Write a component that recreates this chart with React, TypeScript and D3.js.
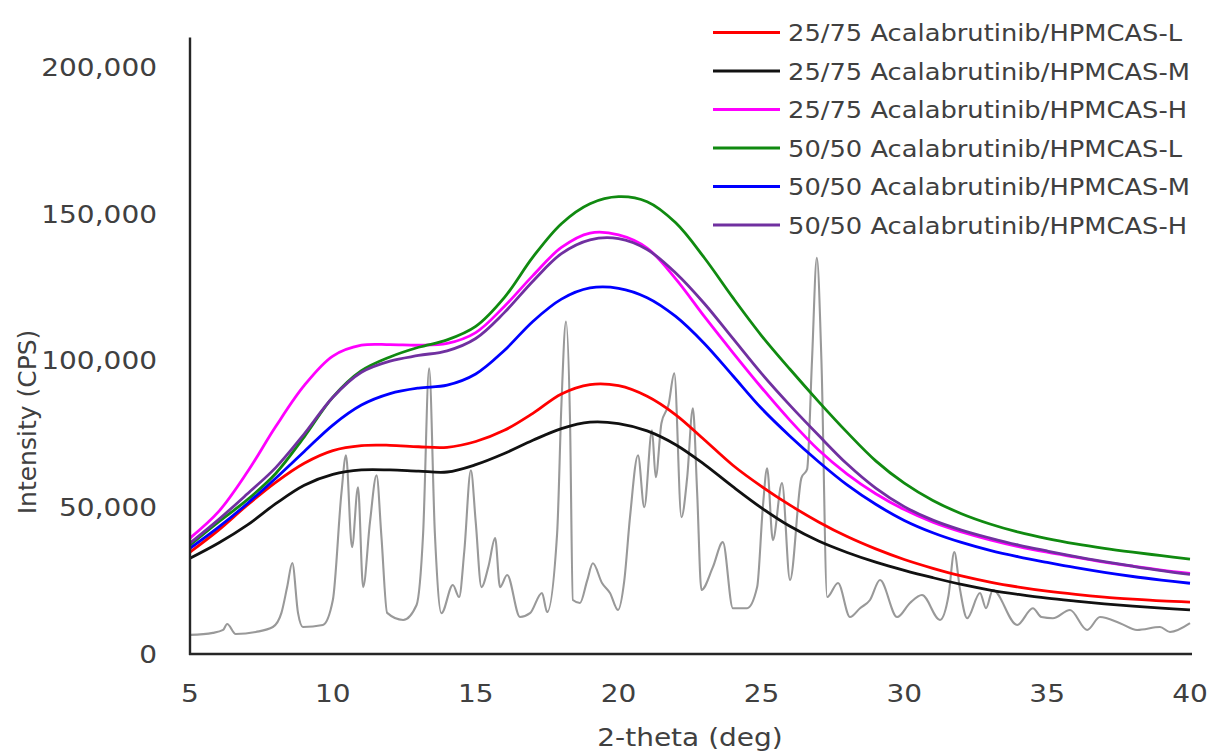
import React from "react";
import * as d3 from "d3";

// ---- data ----
const xTicks = [5, 10, 15, 20, 25, 30, 35, 40];
const yTicks = [0, 50000, 100000, 150000, 200000];

const seriesNames = [
  "25/75 Acalabrutinib/HPMCAS-L",
  "25/75 Acalabrutinib/HPMCAS-M",
  "25/75 Acalabrutinib/HPMCAS-H",
  "50/50 Acalabrutinib/HPMCAS-L",
  "50/50 Acalabrutinib/HPMCAS-M",
  "50/50 Acalabrutinib/HPMCAS-H",
];
const seriesColors = ["#FF0000", "#111111", "#FF00FF", "#108A10", "#0000FF", "#7030A0"];

// 2-theta positions for amorphous halos (5..40 step 1)
const thetaGrid = [5, 6, 7, 8, 9, 10, 11, 12, 13, 14, 15, 16, 17, 18, 19, 20, 21, 22, 23, 24, 25, 26, 27, 28, 29, 30, 31, 32, 33, 34, 35, 36, 37, 38, 39, 40];

const red2575L = [34700, 42200, 50700, 58500, 65000, 69300, 71000, 71100, 70600, 70400, 72400, 76200, 82000, 88600, 91800, 91400, 87800, 81500, 73000, 64300, 57100, 50700, 45000, 40000, 35800, 32200, 29200, 26600, 24500, 22800, 21400, 20300, 19400, 18700, 18100, 17700];
const black2575M = [32600, 37800, 43900, 51200, 57500, 61200, 62700, 62700, 62300, 62000, 64500, 68300, 72800, 76800, 79000, 78500, 76000, 71300, 64600, 57000, 49800, 43500, 38500, 34600, 31300, 28500, 26000, 23700, 21800, 20300, 19000, 18000, 17100, 16300, 15600, 15000];
const pink2575H = [39500, 48500, 61900, 77500, 91500, 101500, 105200, 105400, 105200, 105800, 109500, 118400, 128900, 138500, 143400, 142800, 138300, 127800, 115000, 102700, 90800, 79600, 69500, 61300, 54600, 49200, 44900, 41600, 38900, 36600, 34700, 33000, 31300, 29900, 28600, 27500];
const green5050L = [37100, 45000, 52500, 61500, 74000, 87500, 96500, 101200, 104500, 107000, 111600, 121400, 135200, 146600, 153400, 155800, 154100, 146900, 135000, 121400, 108500, 97000, 86000, 75500, 65800, 58200, 52300, 47800, 44300, 41500, 39300, 37500, 36000, 34700, 33500, 32300];
const blue5050M = [36000, 43200, 51200, 59900, 69000, 78000, 84800, 88700, 90600, 91600, 95400, 103400, 113300, 120900, 124700, 124600, 121400, 115000, 105800, 94800, 83700, 74200, 65500, 57600, 51000, 45500, 41300, 38000, 35300, 33100, 31200, 29400, 27800, 26400, 25200, 24100];
const purple5050H = [37800, 45800, 54500, 63500, 75000, 87500, 96000, 99800, 101700, 103300, 107500, 116300, 127000, 136400, 141100, 141500, 137800, 129800, 119400, 107500, 95600, 84700, 74500, 64700, 56500, 50200, 45600, 42200, 39500, 37100, 35100, 33200, 31500, 29900, 28400, 27100];

const seriesValues = [red2575L, black2575M, pink2575H, green5050L, blue5050M, purple5050H];

// crystalline reference pattern (grey)
const refTheta = [5.0, 5.8, 6.16, 6.3, 6.6, 7.3, 7.9, 8.2, 8.4, 8.58, 8.78, 8.95, 9.65, 10.0, 10.3, 10.46, 10.67, 10.88, 11.06, 11.3, 11.53, 11.7, 11.9, 12.46, 12.93, 13.16, 13.37, 13.57, 13.8, 14.2, 14.42, 14.6, 14.83, 15.0, 15.2, 15.45, 15.68, 15.85, 16.1, 16.55, 16.9, 17.32, 17.5, 17.85, 18.0, 18.16, 18.3, 18.4, 18.65, 18.9, 19.1, 19.42, 19.7, 19.98, 20.2, 20.4, 20.68, 20.9, 21.17, 21.3, 21.5, 21.75, 21.95, 22.2, 22.4, 22.6, 22.75, 22.9, 23.3, 23.65, 24.0, 24.5, 24.85, 25.05, 25.2, 25.4, 25.72, 26.0, 26.4, 26.6, 26.77, 26.94, 27.1, 27.3, 27.68, 28.1, 28.45, 28.8, 29.15, 29.75, 30.2, 30.62, 31.25, 31.55, 31.75, 31.95, 32.2, 32.65, 32.86, 33.1, 33.95, 34.5, 34.8, 35.2, 35.8, 36.4, 36.85, 37.55, 38.15, 38.95, 39.3, 40.0];
const refIntensity = [6500, 7200, 8200, 10200, 6800, 7500, 9200, 14000, 22800, 31000, 14000, 9200, 9900, 18400, 54800, 67700, 36400, 56800, 22800, 45000, 60900, 40000, 14000, 11600, 16700, 41200, 97300, 41200, 13900, 23500, 19400, 35000, 62600, 45000, 22800, 30000, 39500, 22800, 26900, 12600, 13900, 20800, 14300, 41200, 85000, 113300, 80000, 18400, 17400, 25000, 30900, 24200, 20800, 15000, 25000, 46600, 67700, 50000, 76200, 60200, 78600, 85000, 95600, 46600, 60000, 83700, 55000, 21800, 29600, 38100, 15600, 15600, 22800, 50000, 63300, 38800, 58200, 25200, 60000, 63000, 100000, 135000, 100000, 19400, 24200, 12600, 15600, 18400, 25200, 12600, 17400, 20100, 11600, 20000, 34700, 22000, 12200, 20800, 15600, 21800, 9900, 15600, 12600, 12200, 15000, 8200, 12600, 10500, 8200, 9200, 7500, 10500];

const W = 1215;
const H = 756;
const FONT = "'DejaVu Sans', Verdana, sans-serif";
const TEXT = "#404040";
const SX = 1.12;

const x = d3.scaleLinear().domain([5, 40]).range([190, 1190]);
const y = d3.scaleLinear().domain([0, 210000]).range([654, 37.6]);

function T({ tx, ty, anchor, size, children }: { tx: number; ty: number; anchor: string; size: number; children: React.ReactNode }) {
  return (
    <g transform={`translate(${tx},${ty}) scale(${SX},1)`}>
      <text x={0} y={0} textAnchor={anchor} fontFamily={FONT} fontSize={size} fill={TEXT}>
        {children}
      </text>
    </g>
  );
}

export default function App() {
  const smooth = d3
    .line<[number, number]>()
    .x((d) => x(d[0]))
    .y((d) => y(d[1]))
    .curve(d3.curveCatmullRom.alpha(0.5));
  const sharp = d3
    .line<[number, number]>()
    .x((d) => x(d[0]))
    .y((d) => y(d[1]))
    .curve(d3.curveMonotoneX);

  const refPts = refTheta.map((t, i) => [t, refIntensity[i]] as [number, number]);

  return (
    <svg width={W} height={H} style={{ position: "absolute", left: 0, top: 0, background: "#fff" }}>
      <rect x={0} y={0} width={W} height={H} fill="#fff" />
      {/* reference pattern */}
      <path d={sharp(refPts) || ""} fill="none" stroke="#999999" strokeWidth={2.1} strokeLinejoin="round" />
      {/* amorphous dispersions */}
      {seriesValues.map((vals, si) => (
        <path
          key={si}
          d={smooth(thetaGrid.map((t, i) => [t, vals[i]] as [number, number])) || ""}
          fill="none"
          stroke={seriesColors[si]}
          strokeWidth={2.8}
          strokeLinejoin="round"
        />
      ))}
      {/* axes */}
      <line x1={x(5)} x2={x(5)} y1={y(210000)} y2={y(0) + 1} stroke="#262626" strokeWidth={2.4} />
      <line x1={x(5) - 1} x2={x(40) + 2} y1={y(0)} y2={y(0)} stroke="#262626" strokeWidth={2.4} />
      {/* y tick labels */}
      {yTicks.map((v) => (
        <T key={v} tx={157} ty={y(v) + 9} anchor="end" size={25}>
          {d3.format(",")(v)}
        </T>
      ))}
      {/* x tick labels */}
      {xTicks.map((v) => (
        <T key={v} tx={x(v)} ty={702} anchor="middle" size={25}>
          {String(v)}
        </T>
      ))}
      <T tx={690} ty={746} anchor="middle" size={25}>
        2-theta (deg)
      </T>
      <text
        transform={`translate(36,422) rotate(-90)`}
        textAnchor="middle"
        fontFamily={FONT}
        fontSize={25}
        fill={TEXT}
      >
        Intensity (CPS)
      </text>
      {/* legend */}
      {seriesNames.map((name, i) => {
        const ly = 32.5 + i * 38.5;
        return (
          <g key={name}>
            <line x1={713} x2={780} y1={ly} y2={ly} stroke={seriesColors[i]} strokeWidth={2.8} />
            <T tx={788} ty={ly + 8.5} anchor="start" size={23}>
              {name}
            </T>
          </g>
        );
      })}
    </svg>
  );
}
